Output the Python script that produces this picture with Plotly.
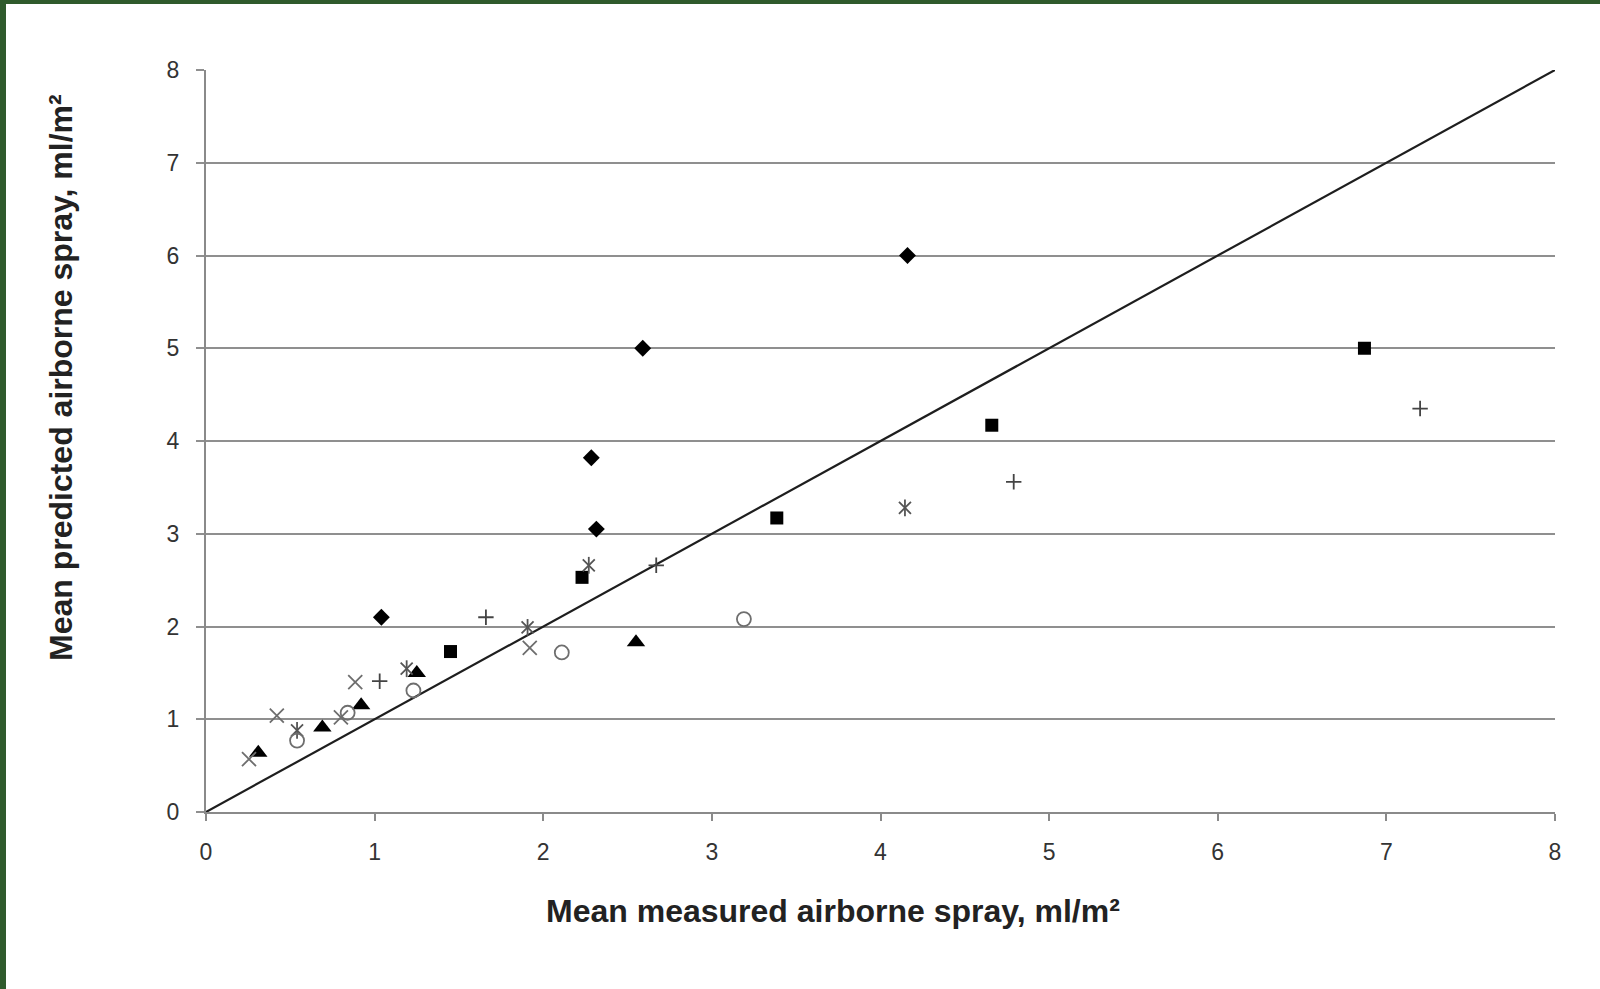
import plotly.graph_objects as go

# ---- data ----
diamond_x = [1.04, 2.285, 2.315, 2.59, 4.16]
diamond_y = [2.10, 3.82, 3.05, 5.00, 6.00]

square_x = [1.45, 2.23, 3.385, 4.66, 6.87]
square_y = [1.73, 2.53, 3.17, 4.17, 5.00]

triangle_x = [0.31, 0.69, 0.92, 1.25, 2.55]
triangle_y = [0.64, 0.91, 1.15, 1.50, 1.83]

xmark_x = [0.255, 0.42, 0.80, 0.885, 1.92]
xmark_y = [0.57, 1.04, 1.02, 1.40, 1.77]

star_x = [0.54, 1.19, 1.907, 2.27, 4.145]
star_y = [0.88, 1.545, 1.99, 2.66, 3.28]

circle_x = [0.54, 0.84, 1.23, 2.11, 3.19]
circle_y = [0.77, 1.07, 1.31, 1.72, 2.08]

plus_x = [1.03, 1.66, 2.67, 4.79, 7.20]
plus_y = [1.41, 2.10, 2.66, 3.56, 4.35]

line_x = [0, 8]
line_y = [0, 8]

tick_vals = [0, 1, 2, 3, 4, 5, 6, 7, 8]
x_title = "Mean measured airborne spray, ml/m²"
y_title = "Mean predicted airborne spray, ml/m²"

FONT = "Liberation Sans, Arial, sans-serif"

fig = go.Figure()

fig.add_trace(go.Scatter(x=line_x, y=line_y, mode="lines",
                         line=dict(color="#1e1e1e", width=2.2), hoverinfo="skip"))

fig.add_trace(go.Scatter(x=diamond_x, y=diamond_y, mode="markers",
                         marker=dict(symbol="diamond", size=13, color="#000000")))
fig.add_trace(go.Scatter(x=square_x, y=square_y, mode="markers",
                         marker=dict(symbol="square", size=13, color="#000000")))
fig.add_trace(go.Scatter(x=triangle_x, y=triangle_y, mode="markers",
                         marker=dict(symbol="triangle-up", size=16, color="#000000")))
fig.add_trace(go.Scatter(x=xmark_x, y=xmark_y, mode="markers",
                         marker=dict(symbol="x-thin-open", size=14, color="#6e6e6e",
                                     line=dict(color="#6e6e6e", width=1.8))))
# star marker = x plus vertical bar
fig.add_trace(go.Scatter(x=star_x, y=star_y, mode="markers",
                         marker=dict(symbol="x-thin-open", size=12, color="#555555",
                                     line=dict(color="#555555", width=1.8))))
fig.add_trace(go.Scatter(x=star_x, y=star_y, mode="markers",
                         marker=dict(symbol="line-ns-open", size=12, color="#555555",
                                     line=dict(color="#555555", width=1.8))))
fig.add_trace(go.Scatter(x=circle_x, y=circle_y, mode="markers",
                         marker=dict(symbol="circle-open", size=14, color="#6e6e6e",
                                     line=dict(color="#6e6e6e", width=1.8))))
fig.add_trace(go.Scatter(x=plus_x, y=plus_y, mode="markers",
                         marker=dict(symbol="cross-thin-open", size=11, color="#444444",
                                     line=dict(color="#444444", width=1.8))))

L, R, T, B = 206, 45, 70, 177
W, H = 1600, 989
pw, ph = W - L - R, H - T - B

fig.update_layout(
    width=W, height=H,
    margin=dict(l=L, r=R, t=T, b=B),
    paper_bgcolor="white", plot_bgcolor="white",
    showlegend=False,
    font=dict(family=FONT, color="#333333"),
    xaxis=dict(range=[0, 8], tickvals=tick_vals, showgrid=False, zeroline=False,
               showline=True, linecolor="#8a8a8a", linewidth=2,
               ticks="outside", ticklen=7, tickwidth=1.5, tickcolor="#8a8a8a",
               tickfont=dict(size=23, color="#333333"), ticklabelstandoff=11),
    yaxis=dict(range=[0, 8], tickvals=tick_vals, showgrid=True, gridcolor="#8f8f8f",
               gridwidth=1.8, zeroline=False,
               showline=True, linecolor="#8a8a8a", linewidth=2,
               ticks="outside", ticklen=8, tickwidth=1.8, tickcolor="#8f8f8f",
               tickfont=dict(size=23, color="#333333"), ticklabelstandoff=12),
    annotations=[
        dict(text="<b>" + x_title + "</b>", xref="paper", yref="paper",
             x=(833 - L) / pw, y=(H - B - 911) / ph, xanchor="center", yanchor="middle",
             showarrow=False, font=dict(size=32, family=FONT, color="#222222")),
        dict(text="<b>" + y_title + "</b>", xref="paper", yref="paper", textangle=-90,
             x=(61 - L) / pw, y=(H - B - 378) / ph, xanchor="center", yanchor="middle",
             showarrow=False, font=dict(size=32, family=FONT, color="#222222")),
    ],
    shapes=[
        # dark green frame (top and left edges)
        dict(type="rect", xref="paper", yref="paper", layer="above",
             x0=(0 - L) / pw, x1=(6 - L) / pw, y0=(H - B - H) / ph, y1=(H - B) / ph,
             fillcolor="#2f5a2c", line=dict(width=0)),
        dict(type="rect", xref="paper", yref="paper", layer="above",
             x0=(0 - L) / pw, x1=(W - L) / pw, y0=(H - B - 4) / ph, y1=(H - B) / ph,
             fillcolor="#2f5a2c", line=dict(width=0)),
    ],
)

fig.write_html("out.html")
